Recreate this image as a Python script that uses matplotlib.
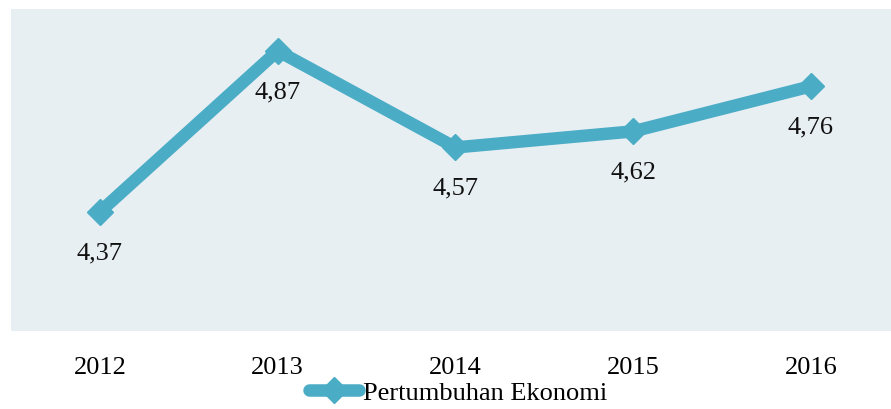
import matplotlib.pyplot as plt

years = ['2012', '2013', '2014', '2015', '2016']
growth = [4.37, 4.87, 4.57, 4.62, 4.76]
labels = ['4,37', '4,87', '4,57', '4,62', '4,76']

plt.rcParams['font.family'] = ['Liberation Serif', 'DejaVu Serif']

fig = plt.figure(figsize=(8.91, 4.10), dpi=100)
ax = fig.add_axes([11 / 891, 1 - 332 / 410, 880 / 891, 322 / 410])
ax.set_facecolor('#e8eff3')

xs = list(range(len(years)))
line, = ax.plot(xs, growth, color='#4bacc6', linewidth=9, marker='D',
                markersize=13, solid_joinstyle='miter', solid_capstyle='round',
                label='Pertumbuhan Ekonomi')

for x, y, t in zip(xs, growth, labels):
    ax.annotate(t, (x, y), xytext=(0, -29), textcoords='offset points',
                ha='center', va='center', fontsize=19, color='#111111')

ax.set_xlim(-0.5, 4.45)
ax.set_ylim(4.0, 5.0)
ax.set_xticks(xs)
ax.set_xticklabels(years, fontsize=19)
ax.set_yticks([])
ax.tick_params(axis='x', length=0, pad=18)
for s in ax.spines.values():
    s.set_visible(False)

fig.legend(handles=[line], loc='center', bbox_to_anchor=(458 / 891, 1 - 393 / 410),
           frameon=False, fontsize=19, handlelength=1.9, handletextpad=0.15,
           borderaxespad=0)

fig.savefig('out.png', dpi=100)
